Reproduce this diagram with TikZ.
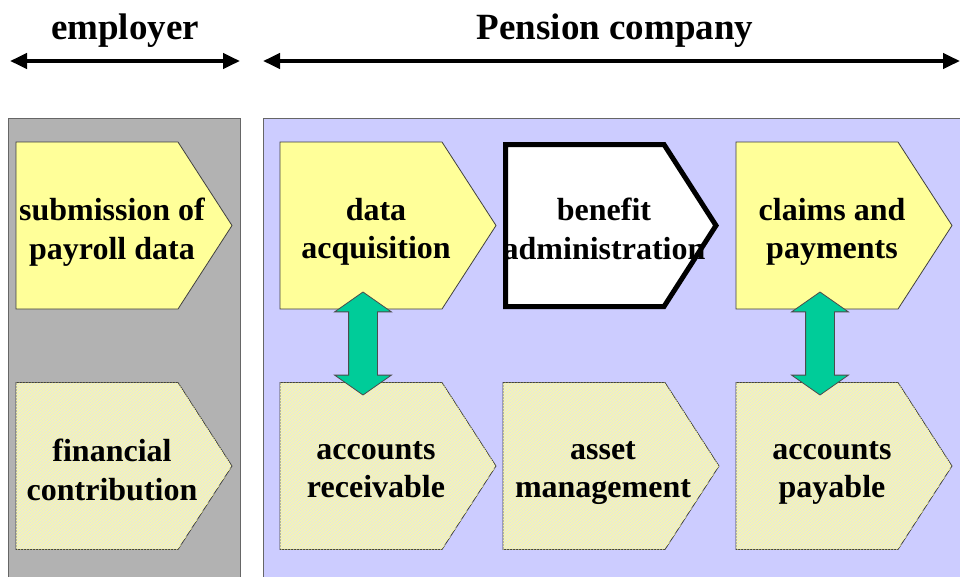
\documentclass[tikz,border=0pt]{standalone}
\usepackage{fontspec}
\setmainfont{Liberation Serif}
\usetikzlibrary{shapes.arrows, arrows.meta, patterns}

\definecolor{panelgray}{HTML}{B2B2B2}
\definecolor{panelblue}{HTML}{CCCCFF}
\definecolor{stepyellow}{HTML}{FFFF99}
\definecolor{hatchbase}{HTML}{E8E8D8}
\definecolor{linkgreen}{HTML}{00CC99}

% pentagon behind a step label: #1 style, #2,#3 label centre
\newcommand\stepshape[3]{%
  \draw [shift={(#2,#3)}, #1]
    (-96,-83.5) -- (66,-83.5) -- (120,0) -- (66,83.5) -- (-96,83.5) -- cycle;}
% same height and depth for every label line
\newcommand\stepstrut{\rule[-11pt]{0pt}{37pt}}

\begin{document}
\begin{tikzpicture}[x=1pt, y=-1pt,
  steptext/.style={inner sep=0pt, align=center,
    font=\fontsize{32}{38.5}\selectfont\bfseries,
    execute at begin node=\stepstrut, execute at end node=\stepstrut},
  plain/.style={fill=stepyellow, draw=black!75, line width=0.8pt},
  hatched/.style={fill=hatchbase, draw=black!75, line width=0.8pt,
    postaction={pattern=north east lines, pattern color=stepyellow}},
  link/.style={double arrow, rotate=90, draw=black!70, line width=0.8pt,
    fill=linkgreen, minimum height=103pt, inner xsep=0pt, inner ysep=14pt,
    double arrow head extend=14pt, double arrow tip angle=110},
  span/.style={{Triangle[length=17pt,width=15pt]}-{Triangle[length=17pt,width=15pt]}, line width=4pt},
  heading/.style={font=\fontsize{37}{44}\selectfont\bfseries}]
\useasboundingbox (0,0) rectangle (960,576);

% panels
\draw [fill=panelgray, draw=black!60] (8,118) rectangle (240,600);
\draw [fill=panelblue, draw=black!60] (263,118) rectangle (990,600);

% headings
\node [heading] (employer) at (125,31) {employer};
\node [heading] (pension) at (615,31) {Pension company};
\coordinate (emp1) at (10,61);
\coordinate (emp2) at (240,61);
\coordinate (pen1) at (263,61);
\coordinate (pen2) at (960,61);
\draw [span] (emp1) -- (emp2);
\draw [span] (pen1) -- (pen2);

% process steps
\stepshape{plain}{112}{225.5}
\node [steptext] (payroll) at (112,234) {submission of\\payroll data};
\stepshape{plain}{376}{225.5}
\node [steptext] (acq) at (376,234) {data\\acquisition};
\draw [fill=white, draw=black, line width=5pt]
  (505.5,144.5) -- (664,144.5) -- (716,225.5) -- (664,306.5) -- (505.5,306.5) -- cycle;
\node [steptext] (benefit) at (604,234) {benefit\\administration};
\stepshape{plain}{832}{225.5}
\node [steptext] (claims) at (832,234) {claims and\\payments};
\stepshape{hatched}{112}{466}
\node [steptext] (contrib) at (112,475) {financial\\contribution};
\stepshape{hatched}{376}{466}
\node [steptext] (recv) at (376,475) {accounts\\receivable};
\stepshape{hatched}{599}{466}
\node [steptext] (asset) at (603,475) {asset\\management};
\stepshape{hatched}{832}{466}
\node [steptext] (pay) at (832,475) {accounts\\payable};

% links
\node [link] (acqrecv) at (363,343.5) {};
\node [link] (claimspay) at (820,343.5) {};
\end{tikzpicture}
\end{document}
